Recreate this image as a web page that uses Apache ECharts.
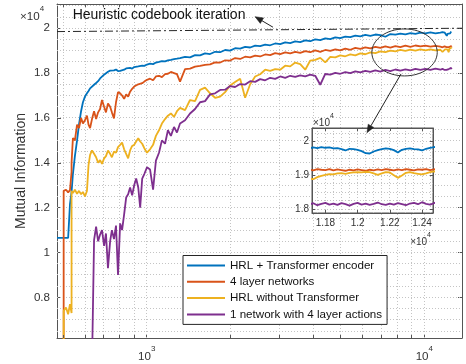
<!DOCTYPE html>
<html><head><meta charset="utf-8">
<script src="https://cdn.jsdelivr.net/npm/echarts@6/dist/echarts.min.js"></script>
<style>html,body{margin:0;padding:0;background:#fff}#c{width:466px;height:364px}</style>
</head><body><div id="c"></div>
<script>
// ---------------- data ----------------
const iterations = [
 475, 487, 502, 502, 512, 521, 529, 529, 536, 536, 542, 551, 561, 570, 580, 589, 599, 609, 617, 625,
 635, 646, 657, 668, 679, 690, 702, 713, 725, 738, 749, 762, 775, 788, 802, 815, 829, 843, 857, 871,
 886, 901, 916, 932, 947, 963, 980, 1002, 1028, 1054, 1079, 1107, 1134, 1164, 1192, 1222, 1254, 1285, 1318,
 1374, 1432, 1493, 1556, 1622, 1691, 1763, 1838, 1916, 1997, 2081, 2170, 2262, 2358, 2458, 2562, 2671, 2784,
 2902, 3025, 3154, 3287, 3427, 3572, 3724, 3882, 4046, 4218, 4397, 4583, 4778, 4980, 5192, 5412, 5641, 5881,
 6130, 6390, 6661, 6944, 7238, 7545, 7865, 8199, 8547, 8909, 9287, 9681, 10092, 10520, 10966, 11431,
 11600, 11625, 11650, 11675, 11700, 11725, 11750, 11775, 11800, 11825, 11850, 11875, 11900, 11925, 11950,
 11975, 12000, 12025, 12050, 12075, 12100, 12125, 12150, 12175, 12200, 12225, 12250, 12275, 12300, 12325,
 12350, 12375, 12400, 12425, 12450, 12475, 12500, 12525, 12550
];
const hrlTransformer = [
 10650, 10650, 10650, 10650, 10650, 10650, 10650, 12160, 12700, 12700,
 13500, 14300, 15000, 15700, 16300, 16700, 16950, 17100, 17200, 17320,
 17400, 17480, 17560, 17640, 17760, 17820, 17930, 18000, 18060, 18110,
 18150, 18120, 18160, 18090, 18100, 18060, 18150, 18210, 18180, 18230,
 18200, 18270, 18250, 18300, 18290, 18330, 18320, 18380, 18420, 18400,
 18470, 18500, 18530, 18520, 18570, 18590, 18620, 18640, 18670,
 18720, 18700, 18800, 18790, 18880, 18850, 18950, 18930, 19030, 19000,
 19110, 19090, 19170, 19140, 19220, 19200, 19270, 19240, 19320, 19290,
 19370, 19340, 19410, 19380, 19460, 19420, 19500, 19470, 19550, 19510,
 19590, 19560, 19630, 19600, 19670, 19640, 19700, 19660, 19720, 19690,
 19620, 19740, 19710, 19760, 19730, 19780, 19750, 19800, 19770, 19810,
 19770, 19800,
 19800, 19830, 19790, 19820, 19800, 19830, 19810, 19840, 19820, 19830,
 19800, 19810, 19780, 19740, 19790, 19780, 19760, 19720, 19660, 19650,
 19710, 19750, 19780, 19800, 19790, 19750, 19680, 19760, 19790, 19800,
 19780, 19770, 19740, 19790, 19820, 19840, 19850, 19830, 19860
];
const fourLayer = [
 null, null, 5000, 12750, 12800, 12680, 12780, 12780, 13600, 14000,
 15100, 15000, 15700, 15550, 16000, 15750, 15900, 16100, 15700, 15550,
 15950, 16300, 15950, 16250, 16400, 16800, 16500, 16250, 16650, 16500,
 16250, 15980, 16700, 17150, 17100, 17000, 16850, 17050, 16950, 17170,
 17300, 17400, 17350, 17500, 17450, 17550, 17620, 17700, 17750, 17680,
 17850, 17880, 17820, 17950, 17970, 18050, 18000, 17950, 17620,
 18180, 18200, 18290, 18320, 18370, 18390, 18480, 18470, 18570, 18560,
 18670, 18630, 18730, 18700, 18780, 18740, 18830, 18800, 18890, 18850,
 18920, 18880, 18950, 18900, 18980, 18930, 19010, 18950, 19030, 18990,
 19060, 19010, 19090, 19040, 19120, 19080, 19150, 19100, 19170, 19120,
 19190, 19140, 19200, 19160, 19220, 19170, 19230, 19190, 19220, 19180,
 19210, 19180,
 19180, 19150, 19190, 19160, 19180, 19150, 19190, 19170, 19160, 19190,
 19150, 19180, 19160, 19140, 19170, 19150, 19180, 19160, 19140, 19170,
 19150, 19180, 19160, 19190, 19170, 19150, 19180, 19160, 19190, 19170,
 19150, 19180, 19170, 19190, 19160, 19180, 19200, 19170, 19190
];
const hrlNoTransformer = [
 null, null, 5000, 7400, 7550, 7250, 7700, 7700, 7300, 12750,
 12650, 12800, 12620, 12750, 12600, 12700, 12500, 12750, 13900, 14350,
 14550, 14400, 14250, 14000, 14120, 13950, 14200, 14300, 14550, 14400,
 14250, 14500, 14450, 14700, 14800, 14900, 14600, 14400, 14200, 14550,
 14750, 14800, 14950, 15100, 14950, 14850, 14650, 14450, 14600, 14800,
 15200, 15450, 15750, 15950, 16100, 16200, 16050, 16300, 16450,
 16350, 16800, 16750, 17250, 17350, 17100, 16900, 16950, 17150, 17450,
 17600, 17750, 16900, 17500, 17850, 17950, 18150, 18100, 18180, 18150,
 18330, 18300, 18470, 18400, 18150, 18560, 18590, 18680, 18480, 18720,
 18700, 18790, 18750, 18830, 18790, 18880, 18840, 18920, 18890, 18970,
 18930, 19000, 18970, 19030, 18990, 19050, 19000, 19060, 19010, 19060,
 19010, 19040,
 18980, 18940, 18960, 18920, 18900, 18890, 18950, 18990, 19020, 19040,
 19030, 19060, 19070, 19050, 19080, 19090, 19100, 19090, 19110, 19100,
 19060, 19020, 19060, 19100, 19090, 19010, 18930, 19000, 19080, 19100,
 19070, 19050, 19030, 19060, 19100, 19120, 19110, 19130, 19100
];
const oneNetwork = [
 null, null, null, null, null, null, null, null, null, null,
 null, null, null, null, null, null, null, null, null, null,
 5000, 10550, 11150, 10500, 10800, 11000, 10300, 10850, 9300, 10500,
 11000, 10600, 11200, 9000, 11300, 11000, 11700, 12450, 12600, 12900,
 12550, 13000, 13300, 12900, 12000, 13300, 13500, 13800, 13700, 12800,
 14100, 14450, 15000, 14850, 15450, 15200, 15600, 15350, 15750,
 15900, 16200, 16400, 16700, 16750, 17050, 17100, 17250, 17260, 17420,
 17380, 17510, 17490, 17640, 17610, 17730, 17680, 17790, 17740, 17850,
 17790, 17880, 17830, 17900, 17850, 17930, 17880, 17480, 17960, 17930,
 18010, 17970, 18040, 18000, 18080, 18030, 18100, 18050, 18120, 18070,
 18140, 18090, 18160, 18110, 18170, 18120, 18190, 18140, 18190, 18140,
 18200, 18150,
 18150, 18190, 18130, 18170, 18140, 18180, 18120, 18160, 18190, 18140,
 18170, 18130, 18180, 18150, 18110, 18160, 18190, 18140, 18170, 18130,
 18160, 18200, 18150, 18130, 18170, 18140, 18180, 18150, 18120, 18170,
 18190, 18150, 18210, 18160, 18140, 18180, 18230, 18170, 18200
];
const heuristicX = [475, 13670];
const heuristicY = [19850, 20000];

const seriesNames = ['HRL + Transformer encoder', '4 layer networks', 'HRL without Transformer', '1 network with 4 layer actions'];
const heuristicName = 'Heuristic codebook iteration';
const yAxisTitle = 'Mutual Information';

const yTickValues = [8000, 10000, 12000, 14000, 16000, 18000, 20000];
const yTickLabels = ['0.8', '1', '1.2', '1.4', '1.6', '1.8', '2'];
const xTickValues = [1000, 10000];
const xTickExponents = ['3', '4'];
const insetXTickValues = [11800, 12000, 12200, 12400];
const insetXTickLabels = ['1.18', '1.2', '1.22', '1.24'];
const insetYTickValues = [18000, 19000, 20000];
const insetYTickLabels = ['1.8', '1.9', '2'];
const xMinorTicks = [500, 600, 700, 800, 900, 2000, 3000, 4000, 5000, 6000, 7000, 8000, 9000];

// ---------------- style ----------------
const FF = "'Liberation Sans', Arial, Helvetica, sans-serif";
const TXT = '#333333';
const AX = '#555555';
const GRID = '#c4c4c4';
const COLORS = ['#0072BD', '#D95319', '#EDB120', '#7E2F8E'];
const MAIN = {xMin: 475, xMax: 13670, yMin: 6190, yMax: 21080};
const INSET = {xMin: 11717, xMax: 12468, yMin: 17890, yMax: 20405};

const seriesValues = [hrlTransformer, fourLayer, hrlNoTransformer, oneNetwork];
const pairs = vals => iterations.map((x, i) => [x, vals[i]]).filter(p => p[1] !== null);

function pickLabel(values, labels) {
  return v => {
    const i = values.findIndex(t => Math.abs(t - v) < Math.abs(t) * 1e-6 + 1e-9);
    return i < 0 ? '' : labels[i];
  };
}

const axisLineStyle = {show: true, lineStyle: {color: AX, width: 1}};
const tickStyle = {show: true, inside: true, length: 4, lineStyle: {color: AX, width: 1}};

const option = {
  animation: false,
  backgroundColor: '#ffffff',
  textStyle: {fontFamily: FF},
  grid: [
    {left: 57, top: 4, width: 405, height: 334, containLabel: false},
    {left: 312, top: 128, width: 121, height: 85, show: true, backgroundColor: '#ffffff',
     borderColor: AX, borderWidth: 1, z: 3}
  ],
  xAxis: [
    {type: 'log', gridIndex: 0, min: MAIN.xMin, max: MAIN.xMax, position: 'bottom',
     axisLine: axisLineStyle, axisTick: tickStyle, splitLine: {show: false}, minorTick: {show: false},
     axisLabel: {show: true, margin: 7, hideOverlap: false,
       formatter: v => { const i = xTickValues.findIndex(t => Math.abs(t - v) < t * 1e-6); return i < 0 ? '' : '{b|10}{s|' + xTickExponents[i] + '}'; },
       rich: {b: {fontSize: 11.6, color: TXT, fontFamily: FF, verticalAlign: 'bottom', lineHeight: 18},
              s: {fontSize: 8, color: TXT, fontFamily: FF, verticalAlign: 'top', lineHeight: 18}}}},
    {type: 'log', gridIndex: 0, min: MAIN.xMin, max: MAIN.xMax, position: 'top',
     axisLine: axisLineStyle, axisTick: tickStyle, splitLine: {show: false}, axisLabel: {show: false}},
    {type: 'value', gridIndex: 1, min: INSET.xMin, max: INSET.xMax, splitNumber: 4, position: 'bottom', z: 4,
     axisLine: axisLineStyle, axisTick: {show: true, inside: true, length: 3, lineStyle: {color: AX}}, splitLine: {show: false},
     axisLabel: {fontSize: 10, color: TXT, fontFamily: FF, margin: 5, showMinLabel: false, showMaxLabel: false,
       formatter: pickLabel(insetXTickValues, insetXTickLabels)}},
    {type: 'value', gridIndex: 1, min: INSET.xMin, max: INSET.xMax, splitNumber: 4, position: 'top', z: 4,
     axisLine: axisLineStyle, axisTick: {show: true, inside: true, length: 3, lineStyle: {color: AX}}, splitLine: {show: false},
     axisLabel: {show: false}}
  ],
  yAxis: [
    {type: 'value', gridIndex: 0, min: MAIN.yMin, max: MAIN.yMax, splitNumber: 7, position: 'left',
     axisLine: axisLineStyle, axisTick: tickStyle, splitLine: {show: false},
     axisLabel: {fontSize: 11.6, color: TXT, fontFamily: FF, margin: 7, formatter: pickLabel(yTickValues, yTickLabels)}},
    {type: 'value', gridIndex: 0, min: MAIN.yMin, max: MAIN.yMax, splitNumber: 7, position: 'right',
     axisLine: axisLineStyle, axisTick: tickStyle, splitLine: {show: false}, axisLabel: {show: false}},
    {type: 'value', gridIndex: 1, min: INSET.yMin, max: INSET.yMax, splitNumber: 3, position: 'left', z: 4,
     axisLine: axisLineStyle, axisTick: {show: true, inside: true, length: 3, lineStyle: {color: AX}}, splitLine: {show: false},
     axisLabel: {fontSize: 10, color: TXT, fontFamily: FF, margin: 3, formatter: pickLabel(insetYTickValues, insetYTickLabels)}},
    {type: 'value', gridIndex: 1, min: INSET.yMin, max: INSET.yMax, splitNumber: 3, position: 'right', z: 4,
     axisLine: axisLineStyle, axisTick: {show: true, inside: true, length: 3, lineStyle: {color: AX}}, splitLine: {show: false},
     axisLabel: {show: false}}
  ],
  legend: {
    data: seriesNames.map(n => ({name: n, icon: 'rect'})), orient: 'vertical', left: 183, top: 255.5,
    itemWidth: 38, itemHeight: 2, itemGap: 2.3, padding: [3, 5, 3, 4],
    borderColor: '#262626', borderWidth: 1, backgroundColor: '#ffffff', borderRadius: 0,
    textStyle: {fontSize: 11.6, color: '#111111', fontFamily: FF, lineHeight: 14}, selectedMode: false
  },
  series: [
    ...seriesValues.map((vals, k) => ({
      type: 'line', name: seriesNames[k], xAxisIndex: 0, yAxisIndex: 0, data: pairs(vals),
      showSymbol: false, symbol: 'none', z: 2, clip: true,
      lineStyle: {color: COLORS[k], width: 1.8}, itemStyle: {color: COLORS[k]}
    })),
    {type: 'line', name: heuristicName, xAxisIndex: 0, yAxisIndex: 0,
     data: heuristicX.map((x, i) => [x, heuristicY[i]]), showSymbol: false, symbol: 'none', z: 2,
     lineStyle: {color: '#262626', width: 1, type: [8, 3, 2, 3]}},
    ...seriesValues.map((vals, k) => ({
      type: 'line', name: seriesNames[k], xAxisIndex: 2, yAxisIndex: 2, data: pairs(vals),
      showSymbol: false, symbol: 'none', z: 5, clip: true,
      lineStyle: {color: COLORS[k], width: 1.8}, itemStyle: {color: COLORS[k]}
    }))
  ]
};

const chart = echarts.init(document.getElementById('c'), null, {renderer: 'canvas', width: 466, height: 364});
chart.setOption(option);

// ---------------- decorations (grid lines, minor ticks, annotations) ----------------
const toMain = (x, y) => chart.convertToPixel({seriesIndex: 0}, [x, y]);
const toInset = (x, y) => chart.convertToPixel({seriesIndex: 5}, [x, y]);
const crisp = v => Math.round(v - 0.5) + 0.5;
const els = [];
const dotted = {stroke: GRID, lineWidth: 1, lineDash: [1, 2]};

function addGrid(conv, R, xs, ys, z) {
  const a = conv(R.xMin, R.yMin), b = conv(R.xMax, R.yMax);
  xs.forEach(x => {
    const px = crisp(conv(x, R.yMin)[0]);
    if (Math.abs(px - a[0]) < 1.5 || Math.abs(px - b[0]) < 1.5) return;
    els.push({type: 'line', z, silent: true, shape: {x1: px, y1: b[1], x2: px, y2: a[1]}, style: dotted});
  });
  ys.forEach(y => {
    const py = crisp(conv(R.xMin, y)[1]);
    if (Math.abs(py - a[1]) < 1.5 || Math.abs(py - b[1]) < 1.5) return;
    els.push({type: 'line', z, silent: true, shape: {x1: a[0], y1: py, x2: b[0], y2: py}, style: dotted});
  });
}
const mainXGrid = [500, 600, 700, 800, 900, 1000, 2000, 3000, 4000, 5000, 6000, 7000, 8000, 9000, 10000];
const mainYGrid = []; for (let v = 6500; v <= 21000; v += 500) mainYGrid.push(v);
const insetXGrid = []; for (let v = 11750; v <= 12450; v += 50) insetXGrid.push(v);
const insetYGrid = []; for (let v = 18000; v <= 20250; v += 250) insetYGrid.push(v);
addGrid(toMain, MAIN, mainXGrid, mainYGrid, 1);
addGrid(toInset, INSET, insetXGrid, insetYGrid, 4);

// minor ticks of log axis (bottom and top)
xMinorTicks.forEach(x => {
  const bot = toMain(x, MAIN.yMin), top = toMain(x, MAIN.yMax);
  const px = crisp(bot[0]);
  els.push({type: 'line', z: 3, silent: true, shape: {x1: px, y1: bot[1], x2: px, y2: bot[1] - 3}, style: {stroke: AX, lineWidth: 1}});
  els.push({type: 'line', z: 3, silent: true, shape: {x1: px, y1: top[1], x2: px, y2: top[1] + 3}, style: {stroke: AX, lineWidth: 1}});
});

function arrow(p0, p1, color) {
  const dx = p1[0] - p0[0], dy = p1[1] - p0[1];
  const L = Math.hypot(dx, dy), ux = dx / L, uy = dy / L;
  const hl = 8, hw = 3.2;
  const bx = p1[0] - ux * hl, by = p1[1] - uy * hl;
  els.push({type: 'line', z: 10, silent: true, shape: {x1: p0[0], y1: p0[1], x2: bx, y2: by}, style: {stroke: color, lineWidth: 1}});
  els.push({type: 'polygon', z: 10, silent: true,
    shape: {points: [[p1[0], p1[1]], [bx - uy * hw, by + ux * hw], [bx + uy * hw, by - ux * hw]]},
    style: {fill: color, stroke: color, lineWidth: 0.5}});
}

// annotation anchors in data coordinates
const ellipseCenter = [8487, 18921];
const ellipseStart = [8243, 17962];
const insetTarget = [12058, 20266];
const heuristicArrowTail = [2850, 20045];
const heuristicArrowHead = [2456, 20517];
const heuristicTextAnchor = [541, 20562];

const ec = toMain(ellipseCenter[0], ellipseCenter[1]);
els.push({type: 'ellipse', z: 10, silent: true, shape: {cx: ec[0], cy: ec[1], rx: 32.7, ry: 23.5},
  style: {fill: null, stroke: '#333333', lineWidth: 1}});
arrow(toMain(ellipseStart[0], ellipseStart[1]), toInset(insetTarget[0], insetTarget[1]), '#222222');
arrow(toMain(heuristicArrowTail[0], heuristicArrowTail[1]), toMain(heuristicArrowHead[0], heuristicArrowHead[1]), '#222222');

const ht = toMain(heuristicTextAnchor[0], heuristicTextAnchor[1]);
els.push({type: 'text', z: 10, silent: true, x: ht[0], y: ht[1],
  style: {text: heuristicName, fontSize: 14, fontFamily: FF, fill: '#111111', verticalAlign: 'middle', align: 'left'}});

// y-axis title, centred on the plot's vertical middle
const yTop = toMain(MAIN.xMin, MAIN.yMax), yBot = toMain(MAIN.xMin, MAIN.yMin);
els.push({type: 'text', z: 10, silent: true, x: yTop[0] - 36, y: (yTop[1] + yBot[1]) / 2, rotation: Math.PI / 2,
  style: {text: yAxisTitle, fontSize: 14, fontFamily: FF, fill: TXT, align: 'center', verticalAlign: 'middle'}});

// ×10^4 exponent labels
const mTop = toMain(MAIN.xMin, MAIN.yMax);
els.push({type: 'text', z: 10, silent: true, x: mTop[0] - 37, y: mTop[1] + 1,
  style: {text: '{a|×10}{b|4}', fontFamily: FF, verticalAlign: 'top', align: 'left',
    rich: {a: {fontSize: 11.6, fill: TXT, verticalAlign: 'bottom', lineHeight: 18, fontFamily: FF},
           b: {fontSize: 8, fill: TXT, verticalAlign: 'top', lineHeight: 18, fontFamily: FF}}}});
const iTL = toInset(INSET.xMin, INSET.yMax);
els.push({type: 'text', z: 10, silent: true, x: iTL[0] + 1, y: iTL[1] - 15,
  style: {text: '{a|×10}{b|4}', fontFamily: FF, verticalAlign: 'top', align: 'left',
    rich: {a: {fontSize: 10, fill: TXT, verticalAlign: 'bottom', lineHeight: 15, fontFamily: FF},
           b: {fontSize: 7, fill: TXT, verticalAlign: 'top', lineHeight: 15, fontFamily: FF}}}});
const iBR = toInset(INSET.xMax, INSET.yMin);
els.push({type: 'text', z: 10, silent: true, x: iBR[0] - 2, y: iBR[1] + 19,
  style: {text: '{a|×10}{b|4}', fontFamily: FF, verticalAlign: 'top', align: 'right',
    rich: {a: {fontSize: 10, fill: TXT, verticalAlign: 'bottom', lineHeight: 15, fontFamily: FF},
           b: {fontSize: 7, fill: TXT, verticalAlign: 'top', lineHeight: 15, fontFamily: FF}}}});

chart.setOption({graphic: {elements: els}});
</script>
</body></html>
